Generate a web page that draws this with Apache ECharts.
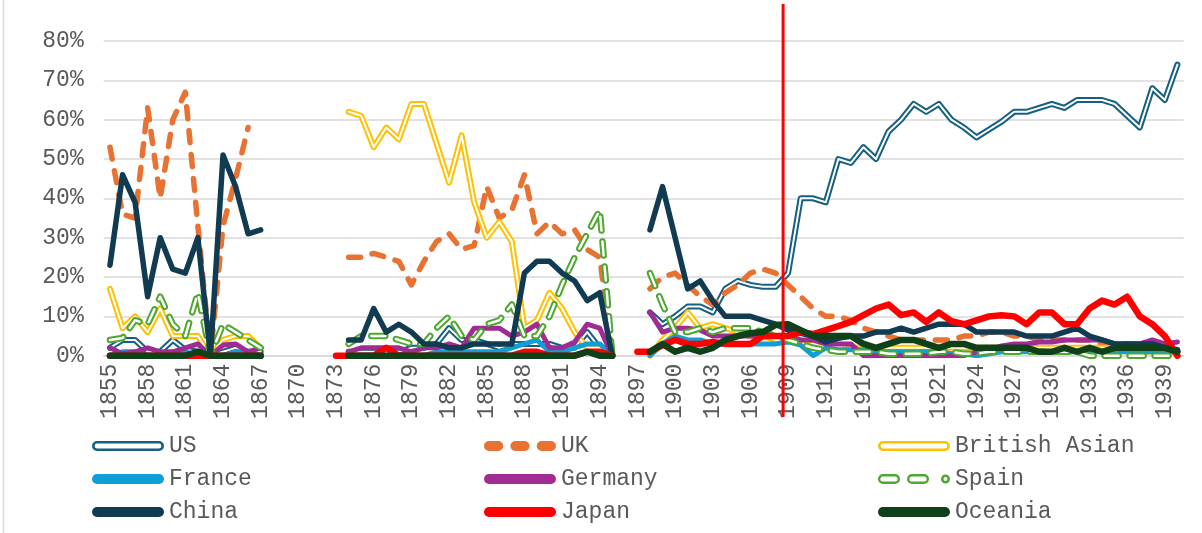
<!DOCTYPE html>
<html>
<head>
<meta charset="utf-8">
<script src="https://cdn.jsdelivr.net/npm/echarts@6/dist/echarts.min.js"></script>
<style>
  html, body { margin: 0; padding: 0; background: #ffffff; }
  #chart { width: 1202px; height: 533px; }
</style>
</head>
<body>
<div id="chart"></div>
<script>
// Shares of trade (%) by partner, 1855-1940; null = no record for that year
const _ = null;

const years = [];
for (let y = 1855; y <= 1940; y++) years.push(String(y));

const yTicks = [0, 10, 20, 30, 40, 50, 60, 70, 80];

// Year where the vertical marker sits
const dividerYear = [1908.6];

//               1855-1867                                       1868-1873       1874-1895                                                                  1896 1897  1898-1940
const us = [2, 4, 4, 1, 1, 4, 1.5, 1, 0, 1, 2, 1, 1,            _, _, _, _, _, _, 1, 1, 1, 1, 1, 2, 2, 3, 7, 4, 4, 3, 2, 3, 3, 3, 3, 2, 2, 6, 2, 0,          _, _,
  11, 8, 10, 12.5, 12.5, 11, 17, 19, 18, 17.5, 17.5, 21, 40, 40, 39, 50, 49, 53, 50, 57, 60, 64, 62, 64, 60, 58, 55.5, 57.5, 59.5, 62, 62, 63, 64, 63, 65, 65, 65, 64, 61, 58, 68, 65, 74];

const uk = [53, 36, 35, 63, 40, 60, 67, 33, 0, 33, 45, 58, _,     _, _, _, _, _, _, 25, 25, 26, 25, 24, 18, 24, 29, 31, 27, 28, 43, 35, 37, 46, 31, 34, 31, 32, 27, 25, 0,   _, _,
  17, 20, 21, 18, 15, 13, 16, 18, 21, 22, 21, 18, 15, 12, 10, 10, 9, 7, 6, 5, 4, 4, 4, 4, 4, 5, 5, 6, 6, 5, 5, 4, 4, 4, 4, 4, 3, 3, 3, 3, 2, 2, 1];

const britishAsian = [17, 7, 10, 6, 12, 5, 5, 5, 0, 4, 5, 5, 2,   _, _, _, _, _, _, 62, 61, 53, 58, 55, 64, 64, 54, 44, 56, 39, 30, 34, 29, 7, 9, 16, 12, 6, 2, 2, 0,     _, _,
  0, 4, 7, 11, 7, 8, 7, 6, 5, 5, 4, 4, 3, 3, 2, 1, 2, 2, 2, 2, 2, 2, 2, 2, 2, 2, 2, 2, 2, 2, 2, 2, 2, 2, 2, 2, 2, 2, 1, 1, 1, 1, 1];

const france = [0, 1, 1, 0, 0, 1, 1, 0, 0, 0, 1, 1, 0,           _, _, _, _, _, _, 0, 0, 0, 0, 0, 0, 0, 1, 1, 1, 1, 1, 1, 2, 3, 4, 1, 1, 2, 3, 3, 0,          _, _,
  0, 3, 5, 4, 4, 3, 3, 3, 3, 3, 3, 3.5, 2.7, 0, 2, 1.5, 1.5, 1.5, 1, 1, 1, 1, 1, 1, 0.5, 0.5, 0, 0.5, 1, 1, 1, 1, 1, 1, 1, 1, 1, 1, 1, 1, 1, 1, 1];

const germany = [2, 0.5, 1, 2, 1, 1, 2, 3, 0, 2.7, 3, 1, 2,      _, _, _, _, _, _, 1, 2, 2, 2, 2, 1, 2, 2, 3, 2, 7, 7, 7, 5, 6, 8, 2, 2, 3.5, 8, 7, 0,        _, _,
  11, 6, 7, 7, 6.5, 5, 5, 5, 5, 5, 5, 5, 4, 4, 3, 3, 3, 0, 0, 0, 0, 0, 0, 0, 0, 0, 1, 1.5, 2.5, 3, 3, 3.5, 3.5, 4, 4, 4, 4, 3, 3, 3, 4, 3, 3.5];

const spain = [4, 4.5, 9, 8, 15, 8, 5, 16, 0, 8, 6, 4, 2,        _, _, _, _, _, _, 3, 5, 5, 5, 4, 3, 3, 7, 10, 5, 4, 8, 9, 13, 5, 5, 10, 18, 25, 31, 37, 0,   _, _,
  21, 13, 6, 6, 7, 6, 7, 7, 7, 6, 5, 4, 3, 2, 1.5, 1, 1, 1, 1, 0.5, 0.5, 0.5, 0.5, 1, 1, 0.5, 0.5, 1, 1, 1, 1, 1, 1, 1, 1, 0, 0, 0, 0, 0, 0, 0, 0];

const china = [23, 46, 39, 15, 30, 22, 21, 30, 0, 51, 43, 31, 32, _, _, _, _, _, _, 4, 4, 12, 6, 8, 6, 3, 3, 2, 2, 3, 3, 3, 3, 21, 24, 24, 21, 19, 14, 16, 0,  _, _,
  32, 43, 30, 17, 19, 14, 10, 10, 10, 9, 8, 6.5, 5.7, 5, 3.5, 4.4, 5, 5, 6, 6, 7, 6, 7, 8, 8, 8, 6, 6, 6, 6, 5, 5, 5, 6, 7, 5, 4, 3, 3, 3, 3, 2, 1.5];

const japan = [0, 0, 0, 0, 0, 0, 0, 0, 0, 0, 0, 0, 0,            _, _, _, _, _, 0, 0, 0, 0, 2, 0, 0, 0, 0, 0, 0, 0, 0, 0, 0, 1, 1, 0, 0, 0, 1, 1, 0,          _, 1,
  1, 2.7, 4, 3, 3, 3.5, 3, 3, 3, 5, 5, 5, 6, 5.5, 6.5, 7.5, 8.6, 10.3, 12, 13, 10.3, 11, 8.6, 11, 8.8, 8, 9, 10, 10.3, 10, 8, 11, 11, 8, 8, 12, 14, 13, 15, 10, 8, 5, 0];

const oceania = [0, 0, 0, 0, 0, 0, 0, 1, 0, 0, 0, 0, 0,          _, _, _, _, _, _, 0, 0, 0, 0, 0, 0, 0, 0, 0, 0, 0, 0, 0, 0, 0, 0, 0, 0, 0, 1, 0, 0,          _, _,
  1, 3, 1, 2, 1, 2, 4, 5, 5.7, 6, 7.8, 8, 6.5, 5, 5, 5, 5, 3, 2, 3, 4, 4, 3, 2, 3, 3, 2, 2, 2, 2, 2, 1, 1, 2, 1, 2, 1, 2, 2, 2, 2, 2, 1];

// ---- styling ----
const FONT = 'Liberation Mono';
const TEXT = '#595959';
const GRIDLINE = '#D9D9D9';

const C = {
  US: '#156082', UK: '#E97132', BA: '#FFC000', FR: '#0F9ED5', DE: '#A02B93',
  ES: '#4EA72E', CN: '#113B51', JP: '#FF0000', OC: '#10401A'
};

// legend glyphs drawn in a 72 x 10 box
function pill(x0, x1) {
  return `M${x0 + 5},0 H${x1 - 5} A5,5 0 0 1 ${x1 - 5},10 H${x0 + 5} A5,5 0 0 1 ${x0 + 5},0 Z`;
}
function hollowPill(x0, x1, t) {
  const r = 5 - t;
  return pill(x0, x1) +
    ` M${x0 + 5},${t} A${r},${r} 0 0 0 ${x0 + 5},${10 - t} H${x1 - 5} A${r},${r} 0 0 0 ${x1 - 5},${t} Z`;
}
const iconDouble = 'path://' + hollowPill(0, 72, 2.6);
const iconSolid = 'path://' + pill(0, 72);
const iconDash = 'path://' + pill(0, 19) + ' ' + pill(26, 45) + ' ' + pill(52, 71);
const iconDashDouble = 'path://' + hollowPill(0, 22, 2.4) + ' ' + hollowPill(29, 51, 2.4) +
  ' M63,5 A4.5,4.5 0 1 1 72,5 A4.5,4.5 0 1 1 63,5 Z M65.5,5 A2,2 0 1 0 69.5,5 A2,2 0 1 0 65.5,5 Z';

function lineSeries(name, data, color, width, extra) {
  return Object.assign({
    name: name,
    type: 'line',
    data: data,
    symbol: 'none',
    showSymbol: false,
    smooth: false,
    connectNulls: false,
    silent: true,
    color: color,
    lineStyle: { color: color, width: width, cap: 'round', join: 'round' }
  }, extra || {});
}

const series = [
  lineSeries('US', us, C.US, 6),
  lineSeries('US core', us, '#ffffff', 2),
  lineSeries('UK', uk, C.UK, 5.5, {
    lineStyle: { color: C.UK, width: 5.5, type: [12, 12], cap: 'round', join: 'round' }
  }),
  lineSeries('British Asian', britishAsian, C.BA, 6),
  lineSeries('British Asian core', britishAsian, '#ffffff', 2),
  lineSeries('France', france, C.FR, 5),
  lineSeries('Germany', germany, C.DE, 5),
  lineSeries('Spain', spain, C.ES, 6.5, {
    lineStyle: { color: C.ES, width: 6.5, type: [14, 11], cap: 'round', join: 'round' }
  }),
  lineSeries('Spain core', spain, '#ffffff', 2.5, {
    lineStyle: { color: '#ffffff', width: 2.5, type: [14, 11], cap: 'round', join: 'round' }
  }),
  lineSeries('China', china, C.CN, 5.5),
  lineSeries('Japan', japan, C.JP, 6.5),
  lineSeries('Oceania', oceania, C.OC, 6.5),
  {
    name: 'divider',
    type: 'line',
    xAxisIndex: 1,
    yAxisIndex: 1,
    data: [[dividerYear[0], 0], [dividerYear[0], 1]],
    symbol: 'none',
    silent: true,
    z: 10,
    lineStyle: { color: '#FF0000', width: 3 }
  }
];

function legendCol(left, items) {
  return {
    orient: 'vertical',
    left: left,
    top: 434,
    height: 100,
    padding: 0,
    itemWidth: 72,
    itemHeight: 10,
    itemGap: 9,
    symbolKeepAspect: false,
    selectedMode: false,
    itemStyle: { borderWidth: 0 },
    textStyle: { fontFamily: FONT, fontSize: 23, lineHeight: 24, color: TEXT },
    data: items
  };
}

const option = {
  animation: false,
  backgroundColor: '#ffffff',
  grid: [
    { left: 103.7, right: 18.3, top: 41, bottom: 177.3, outerBoundsMode: 'none', containLabel: false },
    { left: 103.7, right: 18.3, top: 4, bottom: 116, outerBoundsMode: 'none', containLabel: false }
  ],
  xAxis: [
    {
      type: 'category',
      gridIndex: 0,
      data: years,
      boundaryGap: true,
      axisLine: { show: true, lineStyle: { color: GRIDLINE, width: 1.5 } },
      axisTick: { show: false },
      splitLine: { show: false },
      axisLabel: {
        interval: 2,
        rotate: 90,
        margin: 8,
        fontFamily: FONT,
        fontSize: 23,
        color: TEXT
      }
    },
    { type: 'value', gridIndex: 1, min: 1854.5, max: 1940.5, show: false }
  ],
  yAxis: [
    {
      type: 'value',
      gridIndex: 0,
      min: yTicks[0],
      max: yTicks[yTicks.length - 1],
      interval: 10,
      axisLine: { show: false },
      axisTick: { show: false },
      splitLine: { show: true, lineStyle: { color: GRIDLINE, width: 1.5 } },
      axisLabel: {
        margin: 20,
        fontFamily: FONT,
        fontSize: 23,
        color: TEXT,
        formatter: '{value}%'
      }
    },
    { type: 'value', gridIndex: 1, min: 0, max: 1, show: false }
  ],
  legend: [
    legendCol(92, [
      { name: 'US', icon: iconDouble, itemStyle: { color: C.US, borderWidth: 0 } },
      { name: 'France', icon: iconSolid, itemStyle: { color: C.FR, borderWidth: 0 } },
      { name: 'China', icon: iconSolid, itemStyle: { color: C.CN, borderWidth: 0 } }
    ]),
    legendCol(484, [
      { name: 'UK', icon: iconDash, itemStyle: { color: C.UK, borderWidth: 0 } },
      { name: 'Germany', icon: iconSolid, itemStyle: { color: C.DE, borderWidth: 0 } },
      { name: 'Japan', icon: iconSolid, itemStyle: { color: C.JP, borderWidth: 0 } }
    ]),
    legendCol(878, [
      { name: 'British Asian', icon: iconDouble, itemStyle: { color: C.BA, borderWidth: 0 } },
      { name: 'Spain', icon: iconDashDouble, itemStyle: { color: C.ES, borderWidth: 0 } },
      { name: 'Oceania', icon: iconSolid, itemStyle: { color: C.OC, borderWidth: 0 } }
    ])
  ],
  graphic: [
    {
      type: 'line',
      silent: true,
      shape: { x1: 3.5, y1: 0, x2: 3.5, y2: 533 },
      style: { stroke: GRIDLINE, lineWidth: 1.5 }
    }
  ],
  series: series
};

const chart = echarts.init(document.getElementById('chart'), null, { renderer: 'canvas' });
chart.setOption(option);
</script>
</body>
</html>
